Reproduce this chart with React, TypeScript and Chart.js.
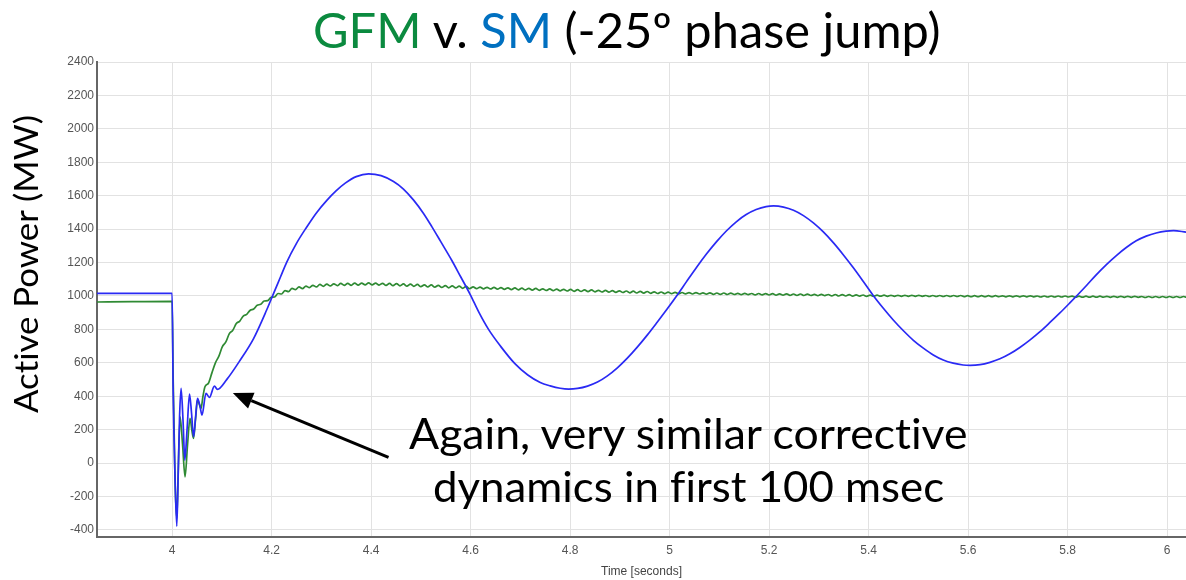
import React, { useEffect, useLayoutEffect, useRef, useState } from "react";
import { Chart, registerables } from "chart.js";

Chart.register(...registerables);

// ---------- axes ----------
const xTicks = [4, 4.2, 4.4, 4.6, 4.8, 5, 5.2, 5.4, 5.6, 5.8, 6];
const yTicks = [-400, -200, 0, 200, 400, 600, 800, 1000, 1200, 1400, 1600, 1800, 2000, 2200, 2400];
const xRange = [3.849, 6.038];
const yRange = [-442, 2400];

// ---------- SM (blue) ----------
const smTime = [
  3.849, 4.0, 4.002, 4.006, 4.0094, 4.0125, 4.015, 4.018, 4.022, 4.0255,
  4.03, 4.035, 4.039, 4.043, 4.047, 4.051, 4.056, 4.06, 4.068, 4.075,
  4.085, 4.091, 4.11, 4.137, 4.164, 4.19, 4.204, 4.218, 4.23, 4.25,
  4.27, 4.29, 4.311, 4.33, 4.348, 4.37, 4.395, 4.42, 4.445, 4.465,
  4.485, 4.505, 4.522, 4.54, 4.562, 4.58, 4.599, 4.617, 4.636, 4.66,
  4.689, 4.715, 4.74, 4.76, 4.78, 4.797, 4.815, 4.835, 4.855, 4.875,
  4.895, 4.915, 4.935, 4.955, 4.975, 4.995, 5.014, 5.034, 5.054, 5.074,
  5.094, 5.114, 5.134, 5.154, 5.174, 5.194, 5.209, 5.229, 5.249, 5.269,
  5.289, 5.309, 5.329, 5.349, 5.369, 5.389, 5.41, 5.43, 5.45, 5.47,
  5.49, 5.51, 5.53, 5.55, 5.57, 5.59, 5.604, 5.624, 5.644, 5.664,
  5.684, 5.704, 5.724, 5.744, 5.764, 5.784, 5.804, 5.818, 5.838, 5.858,
  5.878, 5.898, 5.918, 5.938, 5.958, 5.978, 5.998, 6.013, 6.038,
];
const smPower = [
  1016, 1016, 450, -100, -377, -30, 280, 447, 250, 18,
  200, 413, 300, 158, 270, 387, 340, 287, 417, 393,
  461, 441, 501, 617, 747, 916, 1016, 1115, 1200, 1315,
  1410, 1497, 1572, 1630, 1675, 1714, 1731, 1720, 1685, 1640,
  1575, 1495, 1415, 1325, 1214, 1115, 1010, 900, 800, 700,
  595, 527, 482, 462, 448, 443, 447, 461, 485, 522,
  570, 628, 694, 766, 843, 922, 1000, 1086, 1171, 1251,
  1324, 1389, 1444, 1487, 1517, 1535, 1539, 1532, 1513, 1481,
  1437, 1383, 1319, 1247, 1170, 1088, 1000, 925, 855, 792,
  735, 688, 647, 617, 598, 587, 585, 589, 603, 624,
  654, 692, 736, 785, 840, 897, 957, 1000, 1063, 1128,
  1188, 1242, 1290, 1330, 1358, 1377, 1388, 1391, 1382,
];

// ---------- GFM (green) ----------
const gfmTime = [
  3.849, 3.92, 4.0, 4.002, 4.006, 4.0094, 4.012, 4.016, 4.021, 4.026,
  4.031, 4.036, 4.04, 4.043, 4.047, 4.051, 4.055, 4.058, 4.062, 4.066,
  4.073, 4.08, 4.087, 4.094, 4.101, 4.108, 4.115, 4.122, 4.129, 4.136,
  4.143, 4.15, 4.157, 4.164, 4.171, 4.178, 4.185, 4.192, 4.199, 4.206,
  4.213, 4.22, 4.227, 4.234, 4.241, 4.248,
  4.255, 4.262, 4.269, 4.276, 4.283, 4.29, 4.297, 4.304, 4.311, 4.318,
  4.325, 4.332, 4.339, 4.346, 4.353, 4.36, 4.367, 4.374, 4.381, 4.388,
  4.395, 4.402, 4.409, 4.416, 4.423, 4.43, 4.437, 4.444, 4.451, 4.458,
  4.465, 4.472, 4.479, 4.486, 4.493, 4.5, 4.507, 4.514, 4.521, 4.528,
  4.535, 4.542, 4.549, 4.556, 4.563, 4.57, 4.577, 4.584, 4.591, 4.598,
  4.605, 4.612, 4.619, 4.626, 4.633, 4.64, 4.647, 4.654, 4.661, 4.668,
  4.675, 4.682, 4.689, 4.696, 4.703, 4.71, 4.717, 4.724, 4.731, 4.738,
  4.745, 4.752, 4.759, 4.766, 4.773, 4.78, 4.787, 4.794, 4.801, 4.808,
  4.815, 4.822, 4.829, 4.836, 4.843, 4.85, 4.857, 4.864, 4.871, 4.878,
  4.885, 4.892, 4.899, 4.906, 4.913, 4.92, 4.927, 4.934, 4.941, 4.948,
  4.955, 4.962, 4.969, 4.976, 4.983, 4.99, 4.997, 5.004, 5.011, 5.018,
  5.025, 5.032, 5.039, 5.046, 5.053, 5.06, 5.067, 5.074, 5.081, 5.088,
  5.095, 5.102, 5.109, 5.116, 5.123, 5.13, 5.137, 5.144, 5.151, 5.158,
  5.165, 5.172, 5.179, 5.186, 5.193, 5.2, 5.207, 5.214, 5.221, 5.228,
  5.235, 5.242, 5.249, 5.256, 5.263, 5.27, 5.277, 5.284, 5.291, 5.298,
  5.305, 5.312, 5.319, 5.326, 5.333, 5.34, 5.347, 5.354, 5.361, 5.368,
  5.375, 5.382, 5.389, 5.396, 5.403, 5.41, 5.417, 5.424, 5.431, 5.438,
  5.445, 5.452, 5.459, 5.466, 5.473, 5.48, 5.487, 5.494, 5.501, 5.508,
  5.515, 5.522, 5.529, 5.536, 5.543, 5.55, 5.557, 5.564, 5.571, 5.578,
  5.585, 5.592, 5.599, 5.606, 5.613, 5.62, 5.627, 5.634, 5.641, 5.648,
  5.655, 5.662, 5.669, 5.676, 5.683, 5.69, 5.697, 5.704, 5.711, 5.718,
  5.725, 5.732, 5.739, 5.746, 5.753, 5.76, 5.767, 5.774, 5.781, 5.788,
  5.795, 5.802, 5.809, 5.816, 5.823, 5.83, 5.837, 5.844, 5.851, 5.858,
  5.865, 5.872, 5.879, 5.886, 5.893, 5.9, 5.907, 5.914, 5.921, 5.928,
  5.935, 5.942, 5.949, 5.956, 5.963, 5.97, 5.977, 5.984, 5.991, 5.998,
  6.005, 6.012, 6.019, 6.026, 6.033, 6.04,
];
const gfmPower = [
  964, 966, 968, 520, -120, -330, -80, 277, 110, -82,
  110, 268, 190, 148, 260, 377, 350, 327, 400, 457,
  478, 540, 600, 640, 697, 725, 775, 795, 835, 850,
  880, 890, 915, 922, 945, 950, 970, 972, 992, 994,
  1015, 1012, 1032, 1026, 1046, 1038,
  1054, 1044, 1059, 1050, 1064, 1054, 1069, 1058, 1071, 1060,
  1073, 1062, 1075, 1064, 1076, 1064, 1077, 1065, 1077, 1066,
  1078, 1066, 1077, 1065, 1076, 1063, 1075, 1062, 1074, 1061,
  1072, 1059, 1071, 1058, 1069, 1056, 1067, 1054, 1066, 1053,
  1064, 1051, 1062, 1049, 1060, 1048, 1059, 1046, 1057, 1044,
  1055, 1044, 1053, 1043, 1052, 1042, 1051, 1041, 1050, 1040,
  1049, 1038, 1048, 1037, 1047, 1036, 1046, 1035, 1045, 1034,
  1043, 1033, 1042, 1032, 1041, 1031, 1040, 1030, 1039, 1028,
  1038, 1027, 1037, 1026, 1036, 1025, 1034, 1024, 1033, 1023,
  1032, 1022, 1031, 1021, 1030, 1019, 1029, 1018, 1028, 1017,
  1027, 1016, 1025, 1015, 1024, 1014, 1023, 1014, 1022, 1013,
  1021, 1013, 1020, 1012, 1020, 1012, 1019, 1011, 1019, 1010,
  1018, 1010, 1018, 1009, 1017, 1009, 1016, 1008, 1016, 1008,
  1015, 1007, 1015, 1007, 1014, 1006, 1014, 1005, 1013, 1005,
  1013, 1004, 1012, 1004, 1012, 1003, 1011, 1003, 1010, 1002,
  1010, 1002, 1009, 1001, 1009, 1000, 1008, 1000, 1008, 999,
  1007, 999, 1006, 998, 1005, 999, 1005, 999, 1005, 998,
  1004, 998, 1004, 998, 1004, 998, 1004, 998, 1004, 998,
  1003, 997, 1003, 997, 1003, 997, 1003, 997, 1003, 997,
  1003, 996, 1002, 996, 1002, 996, 1002, 996, 1002, 996,
  1002, 996, 1001, 995, 1001, 995, 1001, 995, 1001, 995,
  1001, 995, 1000, 994, 1000, 994, 1000, 994, 1000, 994,
  1000, 994, 999, 993, 999, 993, 999, 993, 999, 993,
  999, 993, 998, 992, 998, 992, 998, 992, 998, 992,
  998, 992, 997, 991, 997, 991, 997, 991, 997, 991,
  997, 991, 997, 991, 997, 991,
];

// ---------- annotation arrow (data coordinates) ----------
const arrowFrom = [4.435, 35];
const arrowTo = [4.122, 420];

const SM_COLOR = "#2a2af4";
const GFM_COLOR = "#2f8a33";

function pairs(xs: number[], ys: number[]) {
  const n = Math.min(xs.length, ys.length);
  const out: { x: number; y: number }[] = [];
  for (let i = 0; i < n; i++) out.push({ x: xs[i], y: ys[i] });
  return out;
}

const arrowPlugin = {
  id: "arrowAnnotation",
  afterDatasetsDraw(chart: any) {
    const { ctx, scales } = chart;
    const x1 = scales.x.getPixelForValue(arrowFrom[0]);
    const y1 = scales.y.getPixelForValue(arrowFrom[1]);
    const x2 = scales.x.getPixelForValue(arrowTo[0]);
    const y2 = scales.y.getPixelForValue(arrowTo[1]);
    const ang = Math.atan2(y2 - y1, x2 - x1);
    const headLen = 20;
    const headHalf = 8.5;
    const bx = x2 - headLen * Math.cos(ang);
    const by = y2 - headLen * Math.sin(ang);
    ctx.save();
    ctx.strokeStyle = "#000";
    ctx.fillStyle = "#000";
    ctx.lineWidth = 3;
    ctx.beginPath();
    ctx.moveTo(x1, y1);
    ctx.lineTo(bx, by);
    ctx.stroke();
    ctx.beginPath();
    ctx.moveTo(x2, y2);
    ctx.lineTo(bx + headHalf * Math.sin(ang), by - headHalf * Math.cos(ang));
    ctx.lineTo(bx - headHalf * Math.sin(ang), by + headHalf * Math.cos(ang));
    ctx.closePath();
    ctx.fill();
    ctx.restore();
  },
};

type FitProps = {
  x: number;
  y: number;
  length: number;
  size: number;
  rotate?: boolean;
  children: React.ReactNode;
};

// Text placed by its baseline start point, stretched to a given ink length.
function FitText({ x, y, length, size, rotate = false, children }: FitProps) {
  const ref = useRef<HTMLDivElement>(null);
  const mark = useRef<HTMLSpanElement>(null);
  const [m, setM] = useState({ k: 1, b: size * 0.95 });
  useLayoutEffect(() => {
    const el = ref.current;
    const mk = mark.current;
    if (!el || !mk) return;
    const w = el.offsetWidth;
    const b = mk.offsetTop;
    setM({ k: w > 0 ? length / w : 1, b });
  }, [length, size]);
  return (
    <div
      ref={ref}
      style={{
        position: "absolute",
        left: x,
        top: y - m.b,
        fontFamily: "Lato, 'Open Sans', sans-serif",
        fontSize: size,
        fontVariantLigatures: "none",
        fontFeatureSettings: '"liga" 0, "clig" 0',
        lineHeight: `${Math.round(size * 1.2)}px`,
        whiteSpace: "nowrap",
        color: "#000",
        transformOrigin: `0px ${m.b}px`,
        transform: rotate ? `rotate(-90deg) scaleX(${m.k})` : `scaleX(${m.k})`,
      }}
    >
      <span
        ref={mark}
        style={{ display: "inline-block", width: 0, height: 0, verticalAlign: "baseline" }}
      />
      {children}
    </div>
  );
}

export default function App() {
  const canvasRef = useRef<HTMLCanvasElement>(null);

  useEffect(() => {
    if (!canvasRef.current) return;
    const tickFont = { family: "'Liberation Sans', Arial, sans-serif", size: 12 };
    const chart = new Chart(canvasRef.current, {
      type: "line",
      data: {
        datasets: [
          {
            label: "SM",
            data: pairs(smTime, smPower),
            borderColor: SM_COLOR,
            borderWidth: 1.7,
            pointRadius: 0,
            cubicInterpolationMode: "monotone",
            fill: false,
            order: 0,
          },
          {
            label: "GFM",
            data: pairs(gfmTime, gfmPower),
            borderColor: GFM_COLOR,
            borderWidth: 1.7,
            pointRadius: 0,
            cubicInterpolationMode: "monotone",
            fill: false,
            order: 1,
          },
        ],
      },
      options: {
        animation: false,
        responsive: false,
        devicePixelRatio: 1,
        events: [],
        layout: { padding: { top: 62, left: 0, right: 0, bottom: 0 } },
        plugins: {
          legend: { display: false },
          tooltip: { enabled: false },
          title: { display: false },
        },
        scales: {
          x: {
            type: "linear",
            min: xRange[0],
            max: xRange[1],
            grid: { color: "#e2e2e2", lineWidth: 1, drawTicks: false },
            border: { color: "#666", width: 2 },
            ticks: {
              font: tickFont,
              color: "#555",
              padding: 6,
              maxRotation: 0,
              autoSkip: false,
              callback: (v: any) => String(v),
            },
            title: {
              display: true,
              text: "Time [seconds]",
              font: tickFont,
              color: "#444",
              padding: { top: 0, bottom: 1 },
            },
            afterBuildTicks: (s: any) => {
              s.ticks = xTicks.map((v) => ({ value: v }));
            },
            afterFit: (s: any) => {
              s.height = 43;
              s.paddingLeft = 0;
              s.paddingRight = 0;
            },
          },
          y: {
            type: "linear",
            min: yRange[0],
            max: yRange[1],
            grid: { color: "#e2e2e2", lineWidth: 1, drawTicks: false },
            border: { color: "#666", width: 2 },
            ticks: {
              font: tickFont,
              color: "#555",
              padding: 3,
              autoSkip: false,
              callback: (v: any) => String(v),
            },
            afterBuildTicks: (s: any) => {
              s.ticks = yTicks.map((v) => ({ value: v }));
            },
            afterFit: (s: any) => {
              s.width = 97;
              s.paddingTop = 0;
              s.paddingBottom = 0;
            },
          },
        },
      } as any,
      plugins: [arrowPlugin],
    });
    return () => chart.destroy();
  }, []);

  return (
    <div
      style={{
        position: "fixed",
        left: 0,
        top: 0,
        width: 1186,
        height: 580,
        background: "#fff",
        overflow: "hidden",
      }}
    >
      <canvas
        ref={canvasRef}
        width={1186}
        height={580}
        style={{ position: "absolute", left: 0, top: 0, width: 1186, height: 580 }}
      />
      <FitText x={313} y={48} length={627} size={49}>
        <span style={{ color: "#0b8a3f" }}>GFM</span> v.{" "}
        <span style={{ color: "#0070c0" }}>SM</span> (-25º phase jump)
      </FitText>
      <FitText x={37.5} y={413} length={298} size={32} rotate>
        Active Power (MW)
      </FitText>
      <FitText x={409} y={448.5} length={559} size={42}>
        Again, very similar corrective
      </FitText>
      <FitText x={433} y={501.5} length={511} size={42}>
        dynamics in first 100 msec
      </FitText>
    </div>
  );
}
